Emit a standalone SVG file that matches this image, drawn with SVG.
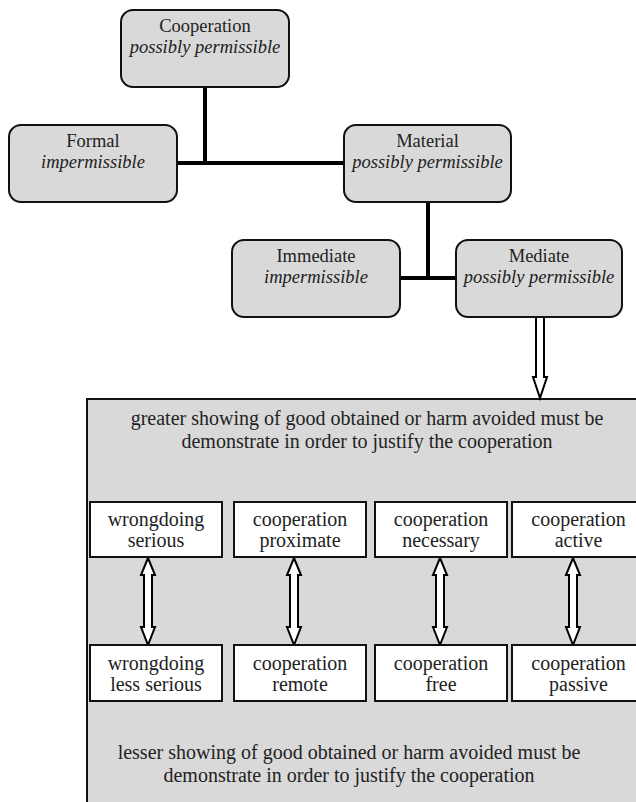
<svg xmlns="http://www.w3.org/2000/svg" width="636" height="802" viewBox="0 0 636 802" font-family="Liberation Serif, DejaVu Serif, serif">
<style>
.node{fill:#d9d9d9;stroke:#111;stroke-width:2}
.nt{font-size:18.5px;fill:#222;text-anchor:middle}
.it{font-style:italic}
.panel{fill:#d9d9d9;stroke:#111;stroke-width:2}
.sb{fill:#fff;stroke:#111;stroke-width:2}
.st{font-size:20px;fill:#222;text-anchor:middle}
.bt{font-size:20px;fill:#222;text-anchor:middle}
.ln{stroke:#000;stroke-width:4;fill:none}
.ar{fill:#fff;stroke:#000;stroke-width:2;stroke-linejoin:miter}
</style>
<rect width="636" height="802" fill="#fff"/>
<g id="panel">
<rect class="panel" x="87" y="399" width="560" height="420"/>
<text class="bt" x="367" y="425">greater showing of good obtained or harm avoided must be</text>
<text class="bt" x="367" y="448">demonstrate in order to justify the cooperation</text>
<text class="bt" x="349" y="759">lesser showing of good obtained or harm avoided must be</text>
<text class="bt" x="349" y="782">demonstrate in order to justify the cooperation</text>
</g>
<g id="connectors">
<path class="ln" d="M205 87V163M177 163H344M428 202V278M400 278H456"/>
<polygon class="ar" points="536,317 544,317 544,377 547,377 540,398 533,377 536,377"/>
<polygon class="ar" points="148,558 155,575 152,575 152,627 155,627 148,645 141,627 144,627 144,575 141,575"/>
<polygon class="ar" points="294,558 301,575 298,575 298,627 301,627 294,645 287,627 290,627 290,575 287,575"/>
<polygon class="ar" points="440,558 447,575 444,575 444,627 447,627 440,645 433,627 436,627 436,575 433,575"/>
<polygon class="ar" points="573,558 580,575 577,575 577,627 580,627 573,645 566,627 569,627 569,575 566,575"/>
</g>
<g id="cooperation">
<rect class="node" x="121" y="10" width="168" height="77" rx="12"/>
<text class="nt" x="205" y="32">Cooperation</text>
<text class="nt it" x="205" y="53">possibly permissible</text>
</g>
<g id="formal">
<rect class="node" x="9" y="125" width="168" height="77" rx="12"/>
<text class="nt" x="93" y="147">Formal</text>
<text class="nt it" x="93" y="168">impermissible</text>
</g>
<g id="material">
<rect class="node" x="344" y="125" width="167" height="77" rx="12"/>
<text class="nt" x="427.5" y="147">Material</text>
<text class="nt it" x="427.5" y="168">possibly permissible</text>
</g>
<g id="immediate">
<rect class="node" x="232" y="240" width="168" height="77" rx="12"/>
<text class="nt" x="316" y="262">Immediate</text>
<text class="nt it" x="316" y="283">impermissible</text>
</g>
<g id="mediate">
<rect class="node" x="456" y="240" width="166" height="77" rx="12"/>
<text class="nt" x="539" y="262">Mediate</text>
<text class="nt it" x="539" y="283">possibly permissible</text>
</g>
<g id="wrong-serious">
<rect class="sb" x="90" y="502" width="132" height="55"/>
<text class="st" x="156" y="526">wrongdoing</text>
<text class="st" x="156" y="547">serious</text>
</g>
<g id="coop-proximate">
<rect class="sb" x="234" y="502" width="132" height="55"/>
<text class="st" x="300" y="526">cooperation</text>
<text class="st" x="300" y="547">proximate</text>
</g>
<g id="coop-necessary">
<rect class="sb" x="375" y="502" width="132" height="55"/>
<text class="st" x="441" y="526">cooperation</text>
<text class="st" x="441" y="547">necessary</text>
</g>
<g id="coop-active">
<rect class="sb" x="512" y="502" width="133" height="55"/>
<text class="st" x="578.5" y="526">cooperation</text>
<text class="st" x="578.5" y="547">active</text>
</g>
<g id="wrong-less">
<rect class="sb" x="90" y="645" width="132" height="56"/>
<text class="st" x="156" y="670">wrongdoing</text>
<text class="st" x="156" y="691">less serious</text>
</g>
<g id="coop-remote">
<rect class="sb" x="234" y="645" width="132" height="56"/>
<text class="st" x="300" y="670">cooperation</text>
<text class="st" x="300" y="691">remote</text>
</g>
<g id="coop-free">
<rect class="sb" x="375" y="645" width="132" height="56"/>
<text class="st" x="441" y="670">cooperation</text>
<text class="st" x="441" y="691">free</text>
</g>
<g id="coop-passive">
<rect class="sb" x="512" y="645" width="133" height="56"/>
<text class="st" x="578.5" y="670">cooperation</text>
<text class="st" x="578.5" y="691">passive</text>
</g>
</svg>
